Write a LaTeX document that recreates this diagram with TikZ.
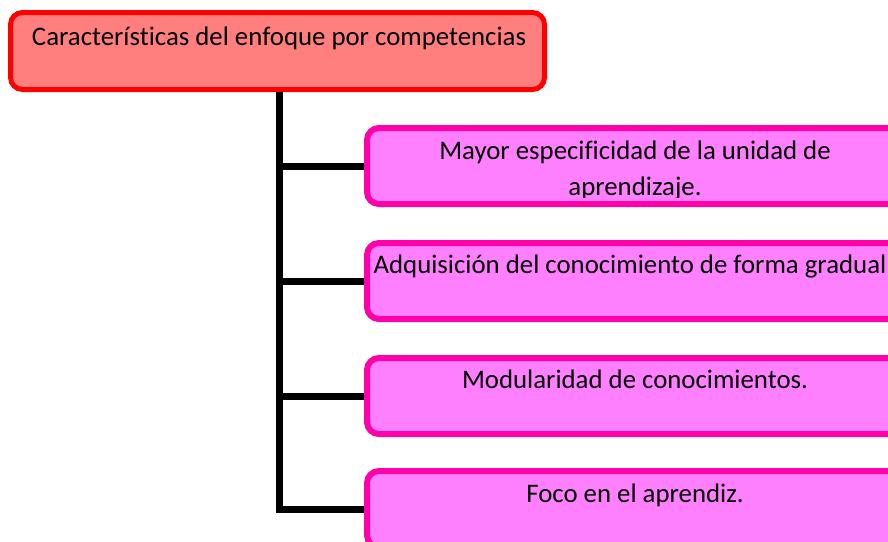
\documentclass[tikz,border=0pt]{standalone}
\usepackage{fontspec}
\setmainfont{Carlito}[Ligatures=NoCommon]
\definecolor{headfill}{HTML}{FF7F7F}
\definecolor{itemfill}{HTML}{FF80FF}
\definecolor{itemline}{HTML}{FF00AA}
\begin{document}
\begin{tikzpicture}[x=1pt, y=-1pt, font=\fontsize{26.8}{36}\selectfont,
  head/.style = {draw=red, fill=headfill, line width=5pt, rounded corners=12pt, minimum width=534pt, minimum height=77pt},
  item/.style = {draw=itemline, fill=itemfill, line width=6pt, rounded corners=12pt, minimum width=538pt, minimum height=76pt},
  txt/.style = {anchor=base, align=center, inner sep=0pt},
  link/.style = {line width=7pt}]
                \useasboundingbox (0,0) rectangle (888,541);
                \clip (0,0) rectangle (888,541);
                \node[head] (h) at (277.5,51) {};
                \node[txt] (th) at (279,45) {Características del enfoque por competencias};
                \node[item] (b1) at (636,166) {};
                \node[item] (b2) at (636,281) {};
                \node[item] (b3) at (636,396) {};
                \node[item] (b4) at (636,509) {};
                \begin{scope}
                    \clip (365,128) rectangle (905,197);
                    \node[txt] (t1) at (635,195) {Mayor especificidad de la unidad de\\aprendizaje.};
                \end{scope}
                \node[txt] (t2) at (630,273) {Adquisición del conocimiento de forma gradual};
                \node[txt] (t3) at (635,388) {Modularidad de conocimientos.};
                \node[txt] (t4) at (635,502) {Foco en el aprendiz.};
                \coordinate (tr) at (279,0);
                \draw[link] (tr |- h.south) -- (tr |- b4.west) -- (b4.west);
                \foreach \b in {b1,b2,b3} \draw[link] (tr |- \b.west) -- (\b.west);
            \end{tikzpicture}
\end{document}
